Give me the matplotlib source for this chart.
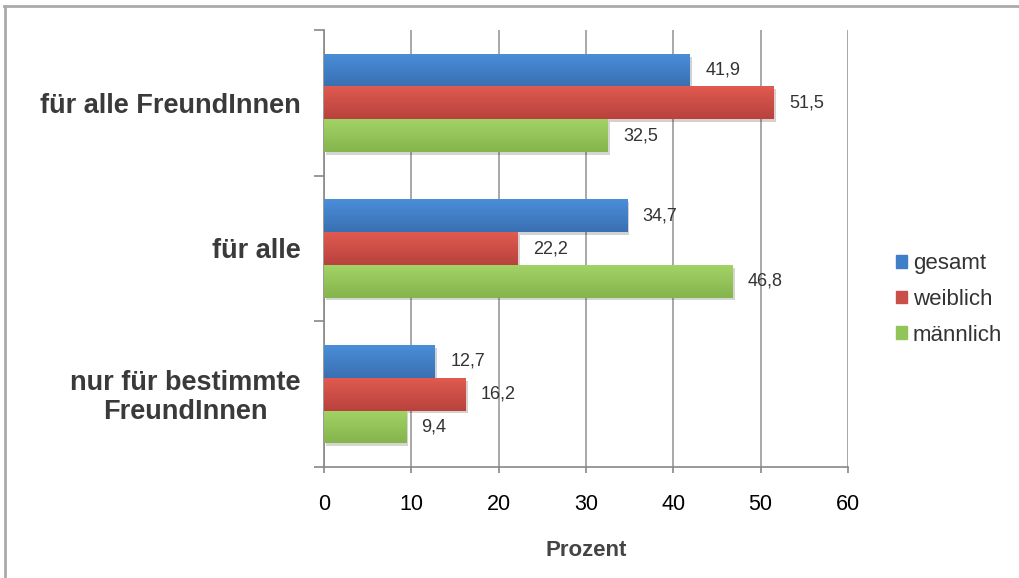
import numpy as np
import matplotlib.pyplot as plt
from matplotlib.colors import LinearSegmentedColormap
from matplotlib.lines import Line2D
import matplotlib.patheffects as pe

plt.rcParams['font.family'] = ['Liberation Sans', 'DejaVu Sans']

categories = ["für alle FreundInnen", "für alle", "nur für bestimmte\nFreundInnen"]
series = ["gesamt", "weiblich", "männlich"]
gesamt = [41.9, 34.7, 12.7]
weiblich = [51.5, 22.2, 16.2]
maennlich = [32.5, 46.8, 9.4]
xticks = [0, 10, 20, 30, 40, 50, 60]

# (top colour, bottom colour) for the shaded bars
shades = [("#4a8fd8", "#3a6fb3"), ("#e05a50", "#b8423d"), ("#a2d366", "#86b44d")]
legend_colors = ["#3f7fc8", "#c9504a", "#92c45a"]

fig = plt.figure(figsize=(10.2, 5.78), dpi=100)
ax = fig.add_axes([0.3176, 0.192, 0.5137, 0.756])

bar_h = 0.225
y = np.arange(len(categories))
values = [gesamt, weiblich, maennlich]
grad = np.linspace(0, 1, 64).reshape(-1, 1)

for i, (vals, (top, bot)) in enumerate(zip(values, shades)):
    pos = y + (i - 1) * bar_h
    bars = ax.barh(pos, vals, height=bar_h, color=bot, zorder=3,
                   path_effects=[pe.SimplePatchShadow(offset=(1.5, -2), alpha=0.2), pe.Normal()])
    cmap = LinearSegmentedColormap.from_list("s%d" % i, [top, bot])
    for b in bars:
        x0, y0 = b.get_x(), b.get_y()
        im = ax.imshow(grad, cmap=cmap, aspect="auto", zorder=4,
                       extent=(x0, x0 + b.get_width(), y0 + b.get_height(), y0))
        im.set_clip_path(b)
    ax.bar_label(bars, labels=[f"{v:.1f}".replace(".", ",") for v in vals],
                 padding=11, fontsize=13, color="#333333", zorder=5)

ax.set_xlim(0, 60)
ax.set_ylim(2.5, -0.5)
ax.set_xticks(xticks)
ax.set_xticklabels([str(t) for t in xticks], fontsize=15.5)
ax.set_yticks([-0.5, 0.5, 1.5, 2.5])
ax.set_yticklabels([])
ax.tick_params(axis="y", length=7, color="#888888", width=1.2)
ax.tick_params(axis="x", length=4.5, color="#888888", width=1.2, pad=15)
for k, cat in enumerate(categories):
    ax.text(-0.045, k + 0.02, cat, transform=ax.get_yaxis_transform(), ha="right", va="center",
            fontsize=19.5, fontweight="bold", color="#3a3a3a", multialignment="center",
            linespacing=1.15)

ax.grid(axis="x", color="#999999", linewidth=1.2, zorder=0)
for side in ["top", "right"]:
    ax.spines[side].set_visible(False)
ax.spines["left"].set_color("#888888")
ax.spines["bottom"].set_color("#888888")
ax.spines["left"].set_linewidth(1.2)
ax.spines["bottom"].set_linewidth(1.2)
ax.set_xlabel("Prozent", fontsize=16, fontweight="bold", color="#444444", labelpad=18)

handles = [plt.Rectangle((0, 0), 1, 1, color=c) for c in legend_colors]
fig.legend(handles, series, loc="center left", bbox_to_anchor=(0.859, 0.482),
           frameon=False, fontsize=16, handlelength=0.5, handleheight=0.5,
           handletextpad=0.25, labelspacing=0.66, labelcolor="#333333")

# outer frame on the top and left edges
fig.add_artist(Line2D([0.004, 1.0], [0.99, 0.99], color="#aaaaaa", linewidth=2))
fig.add_artist(Line2D([0.005, 0.005], [0.0, 0.99], color="#aaaaaa", linewidth=2))

fig.savefig("out.png", dpi=100)
